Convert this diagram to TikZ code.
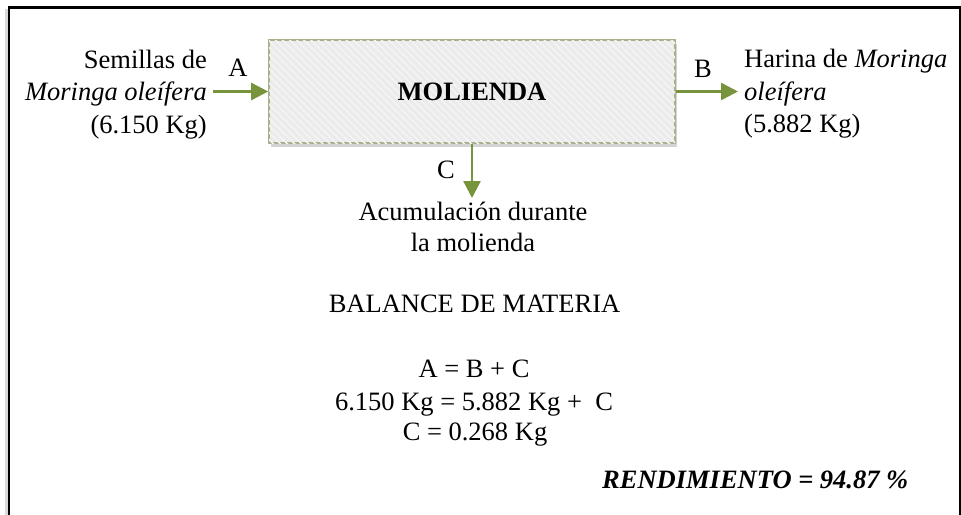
\documentclass[tikz,border=0pt]{standalone}
\usepackage{fontspec}
\setmainfont{Liberation Serif}
\usetikzlibrary{arrows.meta,shadows,patterns.meta}
\definecolor{flowgreen}{HTML}{77933C}
\definecolor{boxborder}{HTML}{A8B08C}
\definecolor{boxfill}{HTML}{EBEBEB}
\tikzset{
  txt/.style={inner sep=0pt, font=\fontsize{26.5}{32}\selectfont},
  flow/.style={draw=flowgreen, line width=2.6pt, -{Triangle[length=17pt,width=17pt]}},
  procbox/.style={draw=boxborder, line width=1.6pt, fill=boxfill,
    minimum width=406pt, minimum height=103pt, inner sep=0pt,
    drop shadow={shadow xshift=1.5pt, shadow yshift=-4pt, opacity=0.35, fill=gray},
    postaction={pattern={Lines[angle=-45,distance=5pt,line width=1.6pt]}, pattern color=white!45!boxfill},
    font=\fontsize{26.5}{32}\selectfont\bfseries}
}
\begin{document}
\begin{tikzpicture}[x=1pt,y=-1pt]
\useasboundingbox (0,0) rectangle (961,514);
\clip (0,0) rectangle (961,514);
% frame
\draw[gray!30, line width=3pt] (6,9) -- (6,540);
\draw[black, line width=2.5pt] (9,540) -- (9,7.5) -- (959.8,7.5) -- (959.8,540);
% process box
\node[procbox] (box) at (472,91.5) {MOLIENDA};
% left input text
\node[txt, anchor=base east] (in1) at (207,68) {Semillas de};
\node[txt, anchor=base east] (in2) at (207,100) {\itshape Moringa oleífera};
\node[txt, anchor=base east] (in3) at (207,133) {(6.150 Kg)};
\node[txt, anchor=base] (la) at (238,76) {A};
\coordinate (ain) at (213,91.5);
\draw[flow] (ain) -- (box.west);
% right output text
\node[txt, anchor=base west] (out1) at (744,67) {Harina de \textit{Moringa}};
\node[txt, anchor=base west] (out2) at (744,100) {\itshape oleífera};
\node[txt, anchor=base west] (out3) at (744,132) {(5.882 Kg)};
\node[txt, anchor=base] (lb) at (703,77) {B};
\coordinate (bout) at (738,91.5);
\draw[flow] (box.east) -- (bout);
% bottom output
\node[txt, anchor=base] (lc) at (446,178) {C};
\coordinate (cout) at (472,198);
\draw[flow] (box.south) -- (cout);
\node[txt, anchor=base] (acc1) at (473,220) {Acumulación durante};
\node[txt, anchor=base] (acc2) at (473,251) {la molienda};
% balance
\node[txt, anchor=base] (bal) at (474.5,312) {BALANCE DE MATERIA};
\node[txt, anchor=base] (eq1) at (474,377) {A = B + C};
\node[txt, anchor=base] (eq2) at (474,410) {6.150 Kg = 5.882 Kg +\ \ C};
\node[txt, anchor=base] (eq3) at (475,440) {C = 0.268 Kg};
\node[txt, anchor=base west] (rend) at (602,488) {\bfseries\itshape RENDIMIENTO = 94.87 \%};
\end{tikzpicture}
\end{document}
